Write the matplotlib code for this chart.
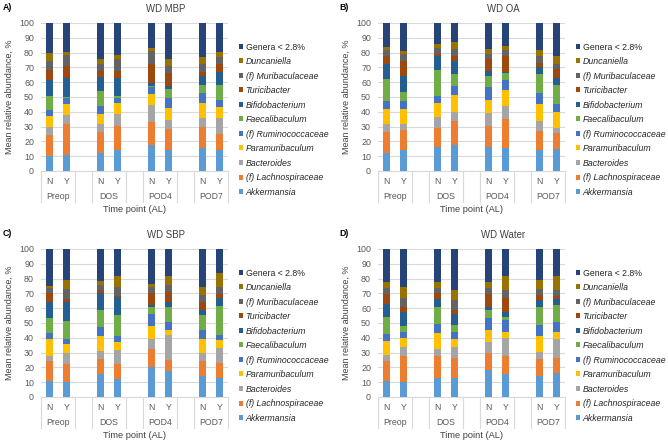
import numpy as np
import matplotlib
matplotlib.use("Agg")
import matplotlib.pyplot as plt
import matplotlib.transforms as mtransforms
from matplotlib.patches import Patch

plt.rcParams["font.family"] = ["Liberation Sans", "DejaVu Sans"]

# -------------------------
# Data
# -------------------------
genera = ["Akkermansia", "(f) Lachnospiraceae", "Bacteroides", "Paramuribaculum",
          "(f) Ruminococcaceae", "Faecalibaculum", "Bifidobacterium", "Turicibacter",
          "(f) Muribaculaceae", "Duncaniella", "Genera < 2.8%"]
colors = ["#5B9BD5", "#ED7D31", "#A5A5A5", "#FFC000", "#4472C4", "#70AD47",
          "#255E91", "#9E480E", "#636363", "#997300", "#264478"]
groups = ["Preop", "DOS", "POD4", "POD7"]
subgroups = ["N", "Y"]

# cumulative top of each stacked segment, bars: Preop N, Preop Y, DOS N, ... POD7 Y
# (the last segment, Genera < 2.8%, always runs up to 100)
mbp_tops = [
    [10, 24, 29.5, 37.5, 41.5, 50.5, 61.5, 68.5, 74, 79.5],
    [10.5, 31.5, 38, 45.5, 49.5, 49.8, 63, 71, 78.5, 80.5],
    [12, 26.5, 31.5, 38.5, 44, 54, 63.5, 67.5, 72.5, 75.5],
    [14, 30.5, 38.5, 46, 49.5, 50.5, 63, 67.5, 76, 78.5],
    [17.5, 33, 44.5, 52, 56.5, 57.5, 59.5, 72, 81, 83],
    [14.5, 28.5, 34.5, 42.5, 49.5, 55.5, 57.5, 66, 71, 76],
    [15.5, 29.5, 36, 46, 52.5, 58, 64, 67, 72, 77],
    [14.5, 25, 35.5, 43, 48, 58, 67, 72, 77, 80.5],
]
oa_tops = [
    [12, 26.5, 32, 42, 47, 62, 72.5, 77.5, 81.5, 83.5],
    [14.5, 28, 32, 42, 47, 53.5, 64, 74.5, 79, 80.8],
    [16, 29, 36.5, 46, 51, 68, 78, 79, 83, 85.5],
    [17.5, 34, 40, 51.5, 57.5, 65.5, 74, 77.5, 82.5, 87],
    [16.5, 30.5, 39.5, 48, 56.5, 64.5, 67.5, 75.5, 79, 82.5],
    [15.5, 35, 44, 54.5, 61.5, 66, 67, 78, 82, 84.5],
    [14, 27, 34, 45, 53, 65.5, 70, 73, 77.5, 82],
    [15, 25.5, 29, 40, 45, 58, 63, 69, 72.5, 78],
]
sbp_tops = [
    [11, 24.5, 28, 39, 43.5, 53.5, 64.5, 70.5, 73.5, 75],
    [10, 22, 29.5, 35.5, 39.5, 51.5, 64, 66.5, 73, 79],
    [15.5, 26, 31, 41, 47, 58.5, 70, 72, 75.5, 78.5],
    [12.5, 22.5, 32, 37, 41, 55.5, 67.5, 68, 74.5, 81.5],
    [20, 32.5, 39.5, 48, 56, 60.5, 62.5, 70, 74, 76.5],
    [17.5, 25, 42, 45.5, 51, 61, 64.5, 71, 76, 82],
    [14, 24.5, 29.5, 39, 45.5, 55.5, 59, 64.5, 69, 74],
    [13, 23, 33, 38.5, 42, 61.5, 67, 69.5, 74.5, 83.5],
]
water_tops = [
    [11, 24, 28.5, 38, 42.5, 54, 63, 69.5, 73.5, 78],
    [10, 27.5, 33.5, 40, 44, 48, 57.5, 61, 67, 74],
    [13, 28, 32.5, 43.5, 49, 60.5, 66.5, 70, 73.5, 77.5],
    [13, 26.5, 33.5, 39, 44, 48.5, 56, 58.5, 65.5, 72],
    [18.5, 29.5, 37.5, 45.5, 53.5, 59, 60.5, 69.5, 73.5, 78],
    [15.5, 27.5, 40, 44, 52, 54, 57.5, 67, 72, 82],
    [14, 25.5, 30.5, 41.5, 48.5, 61, 65.5, 69, 73, 79],
    [16, 26.5, 39.5, 44, 51, 62.5, 66.5, 68, 72, 81.5],
]

# tag, title, data, axes left / top in pixels, tag x
panels = [
    ("A)", "WD MBP", mbp_tops, 41, 23, 3),
    ("B)", "WD OA", oa_tops, 378, 23, 339),
    ("C)", "WD SBP", sbp_tops, 41, 249, 3),
    ("D)", "WD Water", water_tops, 378, 249, 339),
]

W, H = 668, 442
fig = plt.figure(figsize=(W / 100, H / 100), dpi=100)

# N/Y bars with an empty slot between time points
xpos = [0, 1, 3, 4, 6, 7, 9, 10]
text_col = "#595959"
line_col = "#D9D9D9"
fs = 6.3

for tag, title, tops, left, top, tag_x in panels:
    aw, ah = 187, 148
    ax = fig.add_axes([left / W, 1 - (top + ah) / H, aw / W, ah / H])

    tops = np.array(tops, dtype=float)
    edges = np.column_stack([np.zeros(len(tops)), tops, np.full(len(tops), 100.0)])
    segs = np.diff(edges, axis=1)

    bottom = np.zeros(len(xpos))
    for i, g in enumerate(genera):
        ax.bar(xpos, segs[:, i], bottom=bottom, width=0.44, color=colors[i],
               linewidth=0, zorder=3)
        bottom += segs[:, i]

    ax.set_xlim(-0.5, 10.5)
    ax.set_ylim(0, 100)
    ax.set_yticks(range(0, 101, 10))
    ax.yaxis.grid(True, color=line_col, linewidth=0.8, zorder=0)
    for s in ["top", "right", "left"]:
        ax.spines[s].set_visible(False)
    ax.spines["bottom"].set_color(line_col)
    ax.tick_params(axis="y", length=0, labelsize=6.4, labelcolor=text_col, pad=5)
    ax.tick_params(axis="x", length=0, labelsize=fs, labelcolor=text_col, pad=4.5)
    ax.set_xticks(xpos)
    ax.set_xticklabels(subgroups * len(groups))
    ax.set_ylabel("Mean relative abundance, %", fontsize=6.5, color="#404040", labelpad=4)

    # second level of the category axis
    trans = mtransforms.blended_transform_factory(ax.transData, ax.transAxes)
    for k, grp in enumerate(groups):
        ax.text(xpos[2 * k] + 0.5, -0.175, grp, transform=trans, ha="center",
                va="center", fontsize=fs, color=text_col)
    for xb in [-0.5, 1.5, 2.5, 4.5, 5.5, 7.5, 8.5, 10.5]:
        ax.plot([xb, xb], [0, -0.21], transform=trans, color=line_col,
                linewidth=0.8, clip_on=False)
    ax.text(5, -0.258, "Time point (AL)", transform=trans, ha="center", va="center",
            fontsize=6.7, color="#404040")

    fig.text((left + 125) / W, 1 - (top - 14) / H, title, ha="center", va="center",
             fontsize=6.9, color="#404040")
    fig.text(tag_x / W, 1 - (top - 15) / H, tag, ha="left", va="center",
             fontsize=6.3, fontweight="bold")

    handles = [Patch(facecolor=colors[i], label=genera[i]) for i in range(len(genera))][::-1]
    leg = fig.legend(handles=handles, loc="upper left",
                     bbox_to_anchor=((left + 198) / W, 1 - (top + 19.5) / H),
                     frameon=False, fontsize=fs, handlelength=0.5, handleheight=0.5,
                     handletextpad=0.25, labelspacing=0.63, borderaxespad=0, borderpad=0)
    for t in leg.get_texts():
        t.set_color("#262626")
        if not t.get_text().startswith("Genera"):
            t.set_fontstyle("italic")

fig.savefig("out.png", dpi=100)
